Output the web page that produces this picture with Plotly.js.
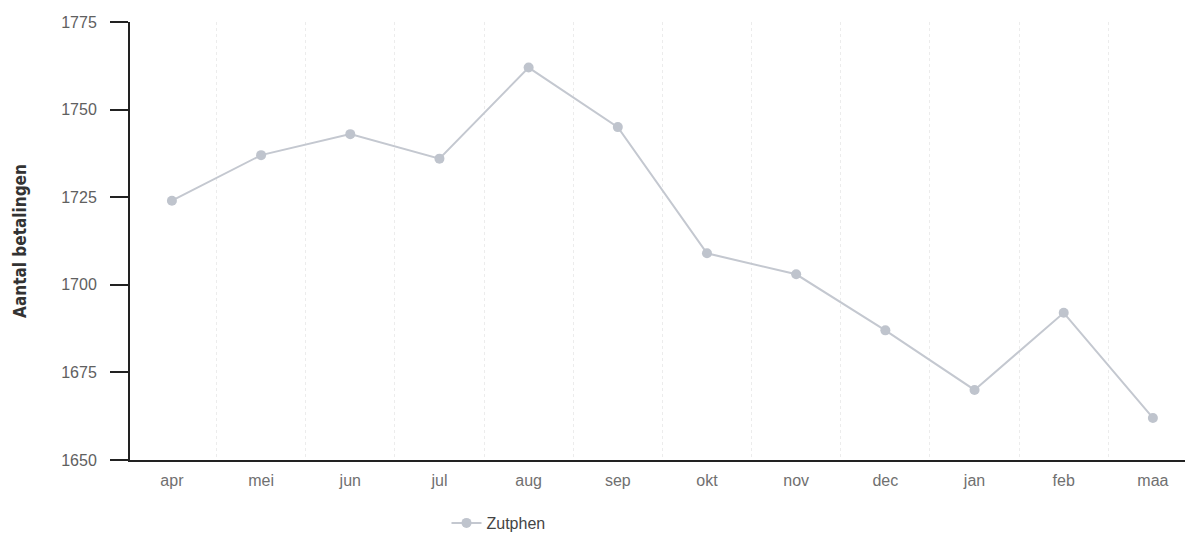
<!DOCTYPE html>
<html>
<head>
<meta charset="utf-8">
<script src="https://cdn.plot.ly/plotly-3.0.1.min.js"></script>
<style>html,body{margin:0;padding:0;background:#fff;}#chart{width:1189px;height:533px;}</style>
</head>
<body>
<div id="chart"></div>
<script>
const months = ["apr","mei","jun","jul","aug","sep","okt","nov","dec","jan","feb","maa"];
const zutphen = [1724, 1737, 1743, 1736, 1762, 1745, 1709, 1703, 1687, 1670, 1692, 1662];
const yTicks = [1650, 1675, 1700, 1725, 1750, 1775];
const seriesName = "Zutphen";
const yTitle = "Aantal betalingen";

const trace = {
  x: months,
  y: zutphen,
  name: seriesName,
  type: "scatter",
  mode: "lines+markers",
  line: {color: "#c4c8d0", width: 2},
  marker: {color: "#bfc4cd", size: 10, symbol: "circle"},
  showlegend: true
};

const layout = {
  width: 1189,
  height: 533,
  margin: {l: 130, r: 4, t: 22, b: 73, autoexpand: false},
  paper_bgcolor: "#fff",
  plot_bgcolor: "#fff",
  font: {family: "Liberation Sans, Arial, sans-serif", color: "#666"},
  xaxis: {
    type: "category",
    range: [-0.47, 11.36],
    tickson: "boundaries",
    ticks: "",
    showgrid: true,
    gridcolor: "#ececec",
    griddash: "dot",
    gridwidth: 1,
    showline: true,
    linecolor: "#222",
    linewidth: 2,
    zeroline: false,
    automargin: false,
    tickfont: {size: 16, color: "#707070"},
    ticklabelstandoff: 5
  },
  yaxis: {
    range: [1650, 1775],
    tickvals: yTicks,
    ticktext: yTicks.map(String),
    ticks: "outside",
    ticklen: 18,
    tickwidth: 2,
    tickcolor: "#222",
    showgrid: false,
    showline: true,
    linecolor: "#222",
    linewidth: 2,
    zeroline: false,
    automargin: false,
    tickfont: {size: 16, color: "#606060"},
    ticklabelstandoff: 10,
    title: {text: yTitle, font: {size: 17, color: "#333", family: "Liberation Sans Narrow, DejaVu Sans Condensed, sans-serif", weight: "bold"}, standoff: 30}
  },
  showlegend: true,
  legend: {
    orientation: "h",
    x: 0.3,
    xanchor: "left",
    y: -0.105,
    yanchor: "top",
    font: {size: 16, color: "#444"},
    bgcolor: "rgba(0,0,0,0)"
  }
};

Plotly.newPlot("chart", [trace], layout, {displayModeBar: false, staticPlot: true});
</script>
</body>
</html>
